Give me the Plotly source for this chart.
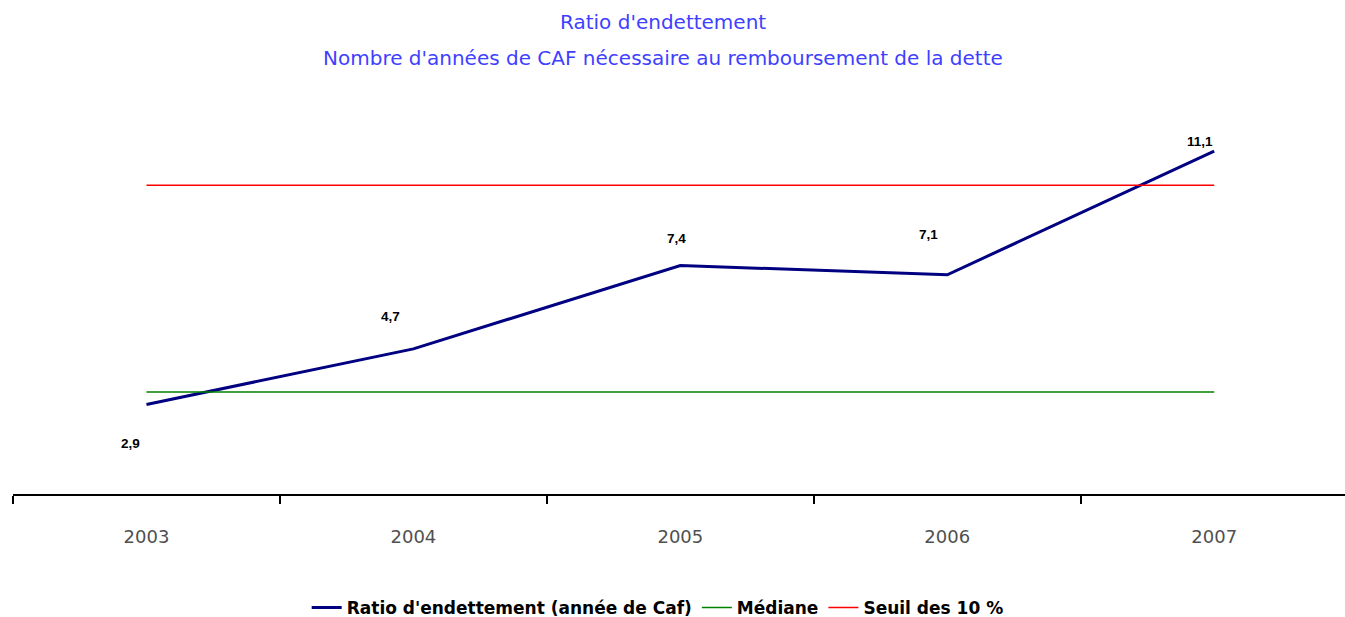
import plotly.graph_objects as go

years = ["2003", "2004", "2005", "2006", "2007"]
ratio = [2.9, 4.7, 7.4, 7.1, 11.1]
mediane = [3.3, 3.3, 3.3, 3.3, 3.3]
seuil = [10, 10, 10, 10, 10]
ratio_labels = ["2,9", "4,7", "7,4", "7,1", "11,1"]
label_shift_x = [-16, -23, -4, -19, -14]
label_shift_y = [-39, 32, 27, 40, 10]

fig = go.Figure()
fig.add_trace(go.Scatter(x=years, y=ratio, mode="lines", name="Ratio d'endettement (année de Caf)",
                         line=dict(color="#000080", width=3)))
fig.add_trace(go.Scatter(x=years, y=mediane, mode="lines", name="Médiane",
                         line=dict(color="#008000", width=1.5)))
fig.add_trace(go.Scatter(x=years, y=seuil, mode="lines", name="Seuil des 10 %",
                         line=dict(color="#FF0000", width=1.5)))

for i, (y, t, dx, dy) in enumerate(zip(ratio, ratio_labels, label_shift_x, label_shift_y)):
    fig.add_annotation(x=i, y=y, xref="x", yref="y", text=t, showarrow=False, xshift=dx, yshift=dy,
                       font=dict(family="Liberation Sans", size=13.5, color="#000000", weight="bold"))

fig.add_annotation(xref="paper", yref="paper", x=0.488, y=1, yshift=86, yanchor="middle",
                   text="Ratio d'endettement",
                   showarrow=False, font=dict(family="DejaVu Sans", size=20, color="#3F3FFF"))
fig.add_annotation(xref="paper", yref="paper", x=0.488, y=1, yshift=50, yanchor="middle",
                   text="Nombre d'années de CAF nécessaire au remboursement de la dette",
                   showarrow=False, font=dict(family="DejaVu Sans", size=20, color="#3F3FFF"))

fig.update_layout(
    width=1345, height=617,
    margin=dict(l=13, r=0, t=108, b=123, autoexpand=False),
    plot_bgcolor="white", paper_bgcolor="white",
    showlegend=True,
    legend=dict(orientation="h", x=0.484, xanchor="center", y=-0.295, yanchor="middle",
                font=dict(family="DejaVu Sans", size=17, color="#000000", weight="bold"),
                tracegroupgap=0),
    xaxis=dict(type="category", range=[-0.5, 4.49], showline=True, linecolor="#000000", linewidth=1.5,
               ticks="outside", tickson="boundaries", ticklen=8, tickcolor="#000000", tickwidth=1.5,
               showgrid=False, zeroline=False, ticklabelstandoff=26,
               tickfont=dict(family="DejaVu Sans", size=18, color="#505050")),
    yaxis=dict(range=[0, 12.5], visible=False, showgrid=False, zeroline=False),
)

fig.write_html("out.html", config={"displayModeBar": False},
               post_script="document.body.style.margin='0';document.body.style.overflow='hidden';")
